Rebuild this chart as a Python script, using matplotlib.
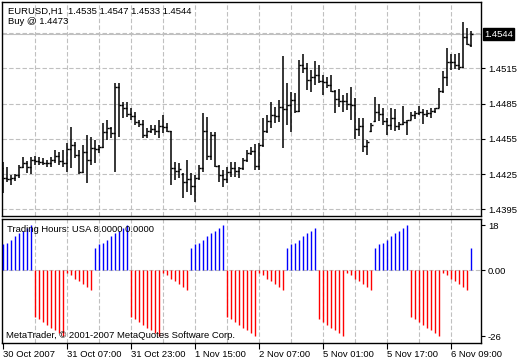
import matplotlib
matplotlib.use('Agg')
import matplotlib.pyplot as plt
import matplotlib.transforms as mtransforms
import numpy as np

plt.rcParams['font.family'] = ['Liberation Sans', 'DejaVu Sans']

# ---------------- data (EURUSD H1) ----------------
highs = [1.44356, 1.44313, 1.44242, 1.44251, 1.44327, 1.44398, 1.44364, 1.44393, 1.44404, 1.44393,
         1.44384, 1.44370, 1.44398, 1.44455, 1.44441, 1.44455, 1.44512, 1.44654, 1.44526, 1.44455,
         1.44498, 1.44583, 1.44569, 1.44540, 1.44498, 1.44682, 1.44710, 1.44654, 1.45023, 1.45023,
         1.44866, 1.44866, 1.44810, 1.44781, 1.44710, 1.44710, 1.44639, 1.44668, 1.44668, 1.44710,
         1.44753, 1.44682, 1.44617, 1.44356, 1.44347, 1.44257, 1.44370, 1.44257, 1.44242, 1.44327,
         1.44767, 1.44739, 1.44611, 1.44611, 1.44327, 1.44285, 1.44313, 1.44356, 1.44356, 1.44313,
         1.44384, 1.44455, 1.44478, 1.44506, 1.44512, 1.44724, 1.44753, 1.44866, 1.44824, 1.44880,
         1.45255, 1.45022, 1.44951, 1.44937, 1.45221, 1.45272, 1.45192, 1.45136, 1.45215, 1.45178,
         1.45093, 1.45079, 1.45093, 1.44966, 1.44971, 1.44923, 1.44937, 1.44994, 1.44894, 1.44730,
         1.44725, 1.44540, 1.44682, 1.44909, 1.44844, 1.44815, 1.44725, 1.44810, 1.44801, 1.44696,
         1.44832, 1.44710, 1.44781, 1.44787, 1.44832, 1.44801, 1.44795, 1.44815, 1.44815, 1.44986,
         1.45127, 1.45320, 1.45269, 1.45269, 1.45278, 1.45542, 1.45491, 1.45470]
lows = [1.44086, 1.44186, 1.44157, 1.44194, 1.44214, 1.44299, 1.44257, 1.44251, 1.44327, 1.44327,
        1.44327, 1.44313, 1.44313, 1.44342, 1.44327, 1.44313, 1.44271, 1.44299, 1.44384, 1.44251,
        1.44257, 1.44171, 1.44327, 1.44342, 1.44427, 1.44469, 1.44540, 1.44554, 1.44271, 1.44569,
        1.44725, 1.44739, 1.44710, 1.44668, 1.44654, 1.44554, 1.44554, 1.44597, 1.44583, 1.44554,
        1.44597, 1.44611, 1.44157, 1.44200, 1.44214, 1.44044, 1.44101, 1.44072, 1.44015, 1.44200,
        1.44271, 1.44370, 1.44370, 1.44313, 1.44186, 1.44143, 1.44171, 1.44228, 1.44228, 1.44214,
        1.44285, 1.44356, 1.44412, 1.44285, 1.44285, 1.44483, 1.44597, 1.44639, 1.44682, 1.44696,
        1.44469, 1.44668, 1.44611, 1.44773, 1.44781, 1.45107, 1.44966, 1.44951, 1.45008, 1.45022,
        1.44923, 1.44980, 1.44951, 1.44767, 1.44824, 1.44781, 1.44795, 1.44710, 1.44546, 1.44577,
        1.44441, 1.44412, 1.44611, 1.44696, 1.44702, 1.44668, 1.44583, 1.44625, 1.44617, 1.44625,
        1.44668, 1.44583, 1.44710, 1.44719, 1.44753, 1.44673, 1.44739, 1.44725, 1.44767, 1.44810,
        1.44937, 1.45003, 1.45136, 1.45144, 1.45136, 1.45150, 1.45349, 1.45330]
opens = [1.4430, 1.4422, 1.4421, 1.4422, 1.4424, 1.4431, 1.4434, 1.4431, 1.4437, 1.4436,
         1.4435, 1.4434, 1.4434, 1.4437, 1.4440, 1.4436, 1.4434, 1.4446, 1.4450, 1.4441,
         1.4427, 1.4444, 1.4437, 1.4447, 1.4446, 1.4448, 1.4461, 1.4464, 1.4460, 1.4499,
         1.4484, 1.4481, 1.4476, 1.4474, 1.4469, 1.4468, 1.4458, 1.4462, 1.4463, 1.4462,
         1.4466, 1.4465, 1.4462, 1.4430, 1.4428, 1.4425, 1.4418, 1.4421, 1.4415, 1.4422,
         1.4430, 1.4462, 1.4440, 1.4458, 1.4432, 1.4424, 1.4421, 1.4427, 1.4430, 1.4428,
         1.4430, 1.4437, 1.4443, 1.4445, 1.4432, 1.4450, 1.4462, 1.4470, 1.4475, 1.4474,
         1.4482, 1.4480, 1.4484, 1.4488, 1.4479, 1.4518, 1.4515, 1.4505, 1.4508, 1.4509,
         1.4504, 1.4503, 1.4501, 1.4496, 1.4489, 1.4487, 1.4487, 1.4485, 1.4484, 1.4463,
         1.4466, 1.4449, 1.4462, 1.4470, 1.4478, 1.4476, 1.4470, 1.4467, 1.4473, 1.4466,
         1.4468, 1.4469, 1.4471, 1.4475, 1.4477, 1.4478, 1.4476, 1.4477, 1.4479, 1.4481,
         1.4496, 1.4508, 1.4520, 1.4520, 1.4518, 1.4516, 1.4542, 1.4535]
closes = [1.4422, 1.4421, 1.4422, 1.4424, 1.4431, 1.4434, 1.4431, 1.4437, 1.4436, 1.4435,
          1.4434, 1.4434, 1.4437, 1.4440, 1.4436, 1.4434, 1.4446, 1.4450, 1.4441, 1.4427,
          1.4444, 1.4437, 1.4447, 1.4446, 1.4448, 1.4461, 1.4464, 1.4460, 1.4499, 1.4484,
          1.4481, 1.4476, 1.4474, 1.4469, 1.4468, 1.4458, 1.4462, 1.4463, 1.4462, 1.4466,
          1.4465, 1.4462, 1.4430, 1.4428, 1.4429, 1.4418, 1.4421, 1.4415, 1.4422, 1.4430,
          1.4462, 1.4440, 1.4458, 1.4432, 1.4424, 1.4421, 1.4427, 1.4430, 1.4428, 1.4430,
          1.4437, 1.4443, 1.4445, 1.4432, 1.4450, 1.4462, 1.4470, 1.4475, 1.4474, 1.4482,
          1.4480, 1.4484, 1.4488, 1.4479, 1.4518, 1.4515, 1.4505, 1.4508, 1.4509, 1.4504,
          1.4503, 1.4501, 1.4496, 1.4489, 1.4487, 1.4487, 1.4485, 1.4484, 1.4463, 1.4466,
          1.4449, 1.4452, 1.4467, 1.4478, 1.4476, 1.4470, 1.4467, 1.4473, 1.4466, 1.4468,
          1.4469, 1.4471, 1.4475, 1.4477, 1.4478, 1.4476, 1.4477, 1.4479, 1.4481, 1.4496,
          1.4508, 1.4520, 1.4520, 1.4518, 1.4516, 1.4542, 1.4536, 1.4544]

# Trading Hours indicator (USA session positive / other hours negative)
hours = [10.3, 11.0, 12.2, 13.5, 14.7, 15.5, 16.8, 18.0,
         -18.6, -19.3, -20.6, -21.7, -22.7, -23.6, -24.9, -26.0,
         -0.9, -2.0, -3.3, -4.3, -5.3, -6.6, -7.6,
         8.9, 10.3, 11.0, 12.2, 13.5, 14.7, 15.5, 16.8, 18.0,
         -18.6, -19.3, -20.6, -21.7, -22.7, -23.6, -24.9, -26.0,
         -0.9, -2.0, -3.3, -4.3, -5.3, -6.6, -7.6,
         8.9, 10.3, 11.0, 12.2, 13.5, 14.7, 15.5, 16.8, 18.0,
         -18.6, -19.3, -20.6, -21.7, -22.7, -23.6, -24.9, -26.0,
         -0.9, -2.0, -3.3, -4.3, -5.3, -6.6, -7.6,
         8.9, 10.3, 11.0, 12.2, 13.5, 14.7, 15.5, 16.8,
         -19.3, -20.6, -21.7, -22.7, -23.6, -24.9, -26.0,
         -0.9, -2.0, -3.3, -4.3, -5.3, -6.6, -7.6,
         8.9, 10.3, 11.0, 12.2, 13.5, 14.7, 15.5, 16.8, 18.0,
         -18.6, -19.3, -20.6, -21.7, -22.7, -23.6, -24.9, -26.0,
         -0.9, -2.0, -3.3, -4.3, -5.3, -6.6, -7.6,
         8.9]

price_ticks = [1.4395, 1.4425, 1.4455, 1.4485, 1.4515]
ind_ticks = [18, 0, -26]
ind_tick_labels = ['18', '0.00', '-26']
time_tick_pos = [0, 16, 32, 48, 64, 80, 96, 112]
time_labels = ['30 Oct 2007', '31 Oct 07:00', '31 Oct 23:00', '1 Nov 15:00',
               '2 Nov 07:00', '5 Nov 01:00', '5 Nov 17:00', '6 Nov 09:00']
grid_pos = [8, 16, 24, 32, 40, 48, 56, 64, 72, 80, 88, 96, 104, 112]
bid = 1.4544
header = 'EURUSD,H1  1.4535 1.4547 1.4533 1.4544'
order_text = 'Buy @ 1.4473'
ind_title = 'Trading Hours: USA 8.0000 0.0000'
copyright_text = 'MetaTrader, \u00a9 2001-2007 MetaQuotes Software Corp.'

# ---------------- figure ----------------
W, H = 520, 360
fig = plt.figure(figsize=(W / 100, H / 100), dpi=100)
fig.patch.set_facecolor('white')


def rect(x0, y0, x1, y1):
    return [x0 / W, 1 - y1 / H, (x1 - x0) / W, (y1 - y0) / H]


ax = fig.add_axes(rect(2, 2, 481, 216))
ax2 = fig.add_axes(rect(2, 219, 481, 343))

FS = 6.8
GRID = '#c0c0c0'
DASH = (0, (4, 2))

idx = np.arange(len(highs))
xl = (-0.25, 119.5)

for a in (ax, ax2):
    a.set_facecolor('white')
    for s in a.spines.values():
        s.set_color('black')
        s.set_linewidth(1.0)
    a.set_xlim(*xl)
    for g in grid_pos:
        a.axvline(g, color=GRID, lw=0.8, ls=DASH, zorder=0)

# main price panel
ax.vlines(idx, lows, highs, color='black', lw=1.1, zorder=3)
ax.hlines(opens, idx - 0.45, idx, color='black', lw=1.0, zorder=3)
ax.hlines(closes, idx, idx + 0.45, color='black', lw=1.0, zorder=3)
ax.set_ylim(1.43893, 1.45714)
for p in price_ticks + [1.4545]:
    ax.axhline(p, color=GRID, lw=0.8, ls=DASH, zorder=0)
ax.axhline(bid, color='#c0c0c0', lw=0.8, zorder=1)
ax.yaxis.tick_right()
ax.set_yticks(price_ticks)
ax.set_yticklabels(['%.4f' % p for p in price_ticks])
ax.tick_params(axis='y', length=3, width=0.8, pad=2, labelsize=FS, colors='black')
ax.set_xticks([])
trans = mtransforms.blended_transform_factory(ax.transAxes, ax.transData)
ax.text(1.0 + 3 / 479, bid, '%.4f' % bid, transform=trans, ha='left', va='center',
        fontsize=FS, color='white',
        bbox=dict(boxstyle='square,pad=0.15', fc='black', ec='black'))

fig.text(8 / W, 1 - 11 / H, header, fontsize=FS, color='black', va='center', ha='left')
fig.text(8 / W, 1 - 21 / H, order_text, fontsize=FS, color='black', va='center', ha='left')

# indicator panel
colors = ['#0000ff' if v > 0 else '#ff0000' for v in hours]
ax2.vlines(idx, 0, hours, colors=colors, lw=1.0, zorder=3)
ax2.axhline(0, color=GRID, lw=0.8, ls=DASH, zorder=0)
ax2.set_ylim(-28.77, 20.38)
ax2.yaxis.tick_right()
ax2.set_yticks(ind_ticks)
ax2.set_yticklabels(ind_tick_labels)
ax2.tick_params(axis='y', length=3, width=0.8, pad=2, labelsize=FS, colors='black')
ax2.set_xticks(time_tick_pos)
ax2.set_xticklabels(time_labels)
ax2.tick_params(axis='x', length=4, width=0.8, pad=1, labelsize=FS, colors='black')
for lbl in ax2.get_xticklabels():
    lbl.set_ha('left')

fig.text(7 / W, 1 - 229 / H, ind_title, fontsize=FS, color='black', va='center', ha='left', zorder=10)
fig.text(6 / W, 1 - 335 / H, copyright_text, fontsize=FS, color='black', va='center', ha='left', zorder=10)

fig.savefig('out.png', dpi=100, facecolor='white')
